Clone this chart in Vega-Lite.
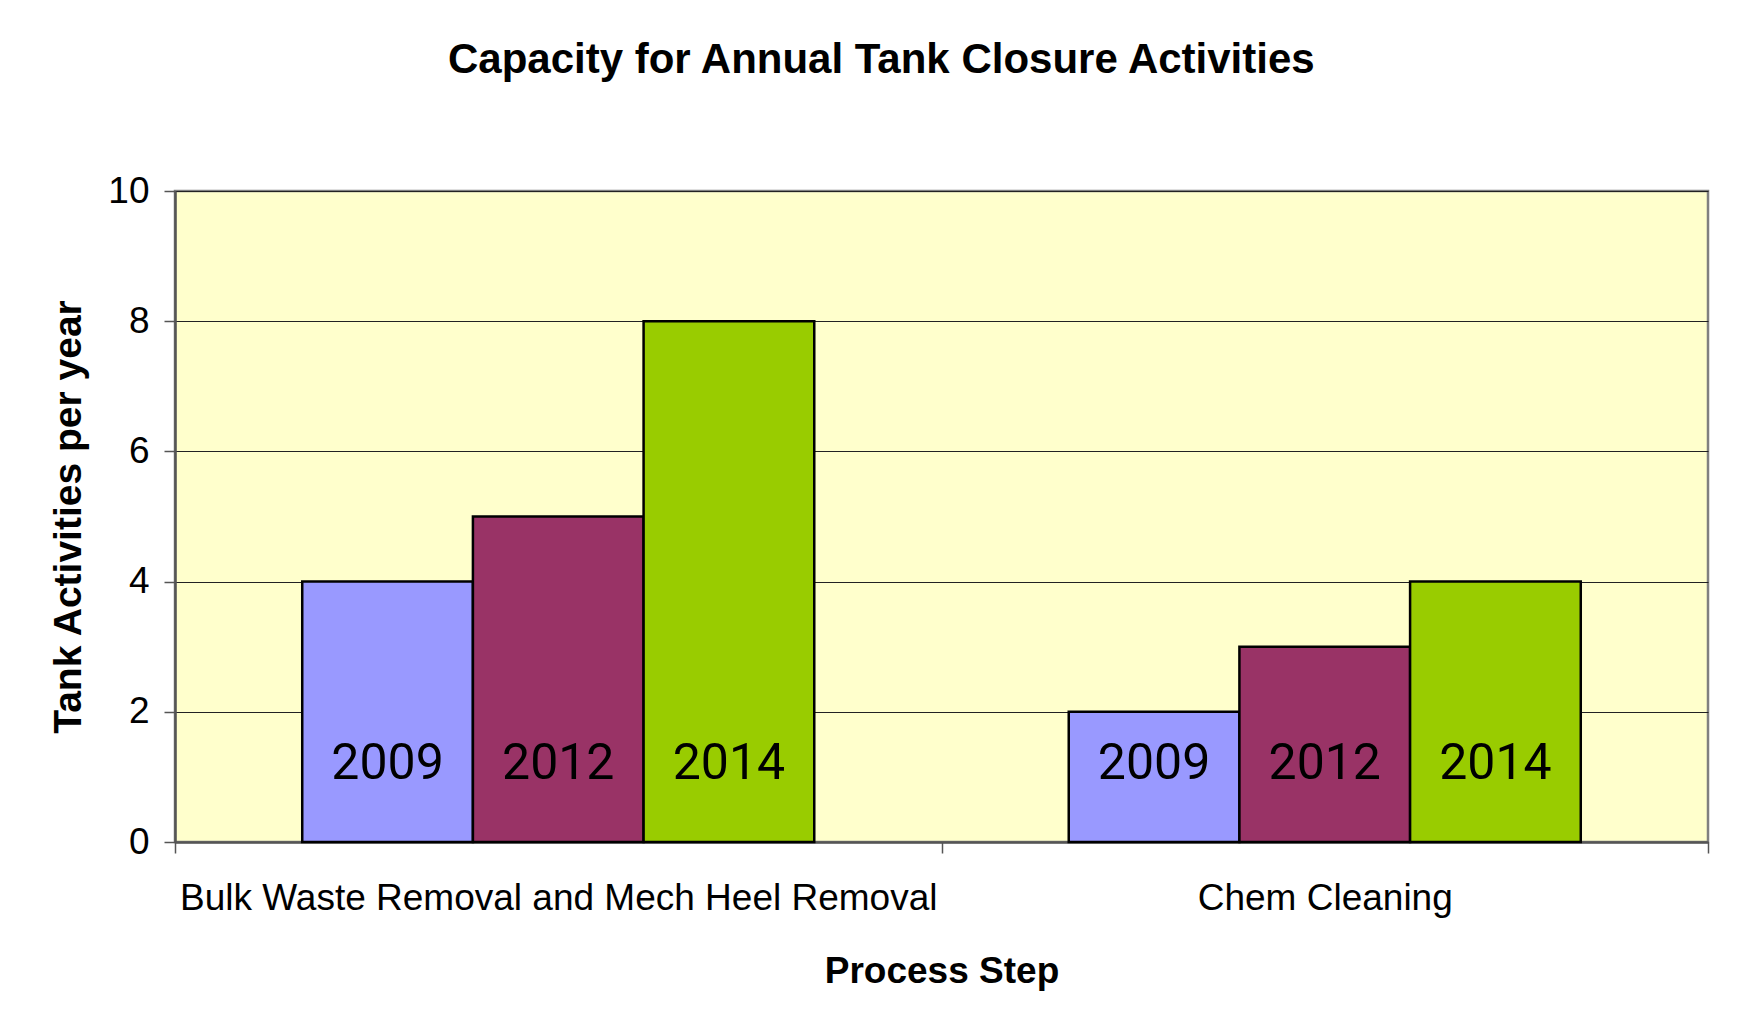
{
  "$schema": "https://vega.github.io/schema/vega-lite/v6.json",
  "width": 1533,
  "height": 651,
  "autosize": {"type": "none"},
  "padding": {"left": 175, "top": 191, "right": 31, "bottom": 188},
  "background": "white",
  "title": {
    "text": "Capacity for Annual Tank Closure Activities",
    "font": "Liberation Sans",
    "fontSize": 42,
    "fontWeight": "bold",
    "color": "#000000",
    "anchor": "middle",
    "frame": "bounds",
    "offset": 90,
    "dx": 2
  },
  "data": {
    "values": [
      {"step": "Bulk Waste Removal and Mech Heel Removal", "year": "2009", "value": 4},
      {"step": "Bulk Waste Removal and Mech Heel Removal", "year": "2012", "value": 5},
      {"step": "Bulk Waste Removal and Mech Heel Removal", "year": "2014", "value": 8},
      {"step": "Chem Cleaning", "year": "2009", "value": 2},
      {"step": "Chem Cleaning", "year": "2012", "value": 3},
      {"step": "Chem Cleaning", "year": "2014", "value": 4}
    ]
  },
  "resolve": {"scale": {"x": "independent"}, "axis": {"x": "independent"}},
  "layer": [
    {
      "mark": {"type": "rule", "opacity": 0},
      "encoding": {
        "x": {
          "field": "step",
          "type": "nominal",
          "sort": null,
          "scale": {"paddingInner": 0, "paddingOuter": 0},
          "axis": {
            "title": "Process Step",
            "titleFont": "Liberation Sans",
            "titleFontSize": 37,
            "titleFontWeight": "bold",
            "titleColor": "#000000",
            "titlePadding": 37,
            "labelAngle": 0,
            "labelFont": "Liberation Sans",
            "labelFontSize": 37,
            "labelColor": "#000000",
            "labelPadding": 27,
            "labelLimit": 0,
            "tickBand": "extent",
            "tickSize": 11,
            "tickColor": "#555555",
            "tickWidth": 1.5,
            "domainColor": "#555555",
            "domainWidth": 2.5,
            "grid": false
          }
        }
      }
    },
    {
      "encoding": {
        "x": {
          "field": "step",
          "type": "nominal",
          "sort": null,
          "scale": {"paddingInner": 0.332, "paddingOuter": 0.166},
          "axis": null
        },
        "xOffset": {
          "field": "year",
          "type": "nominal",
          "scale": {"paddingInner": 0, "paddingOuter": 0}
        }
      },
      "layer": [
        {
          "mark": {"type": "bar", "stroke": "#000000", "strokeWidth": 2.5},
          "encoding": {
            "y": {
              "field": "value",
              "type": "quantitative",
              "scale": {"domain": [0, 10], "nice": false},
              "axis": {
                "title": "Tank Activities per year",
                "titleFont": "Liberation Sans",
                "titleFontSize": 39,
                "titleFontWeight": "bold",
                "titleColor": "#000000",
                "titlePadding": 19,
                "values": [0, 2, 4, 6, 8, 10],
                "format": "d",
                "labelFont": "Liberation Sans",
                "labelFontSize": 37,
                "labelColor": "#000000",
                "labelPadding": 15,
                "tickSize": 11,
                "tickColor": "#555555",
                "tickWidth": 1.5,
                "domainColor": "#555555",
                "domainWidth": 2.5,
                "grid": true,
                "gridColor": "#222222",
                "gridWidth": 1.2
              }
            },
            "color": {
              "field": "year",
              "type": "nominal",
              "scale": {"domain": ["2009", "2012", "2014"], "range": ["#9999FF", "#993366", "#99CC00"]},
              "legend": null
            }
          }
        },
        {
          "mark": {"type": "text", "font": "Roboto", "fontSize": 50, "baseline": "middle", "align": "center", "color": "#000000"},
          "encoding": {
            "y": {"datum": 1.2},
            "text": {"field": "year"}
          }
        }
      ]
    }
  ],
  "config": {
    "view": {"fill": "#FFFFCC", "stroke": "#808080", "strokeWidth": 2.5}
  }
}
